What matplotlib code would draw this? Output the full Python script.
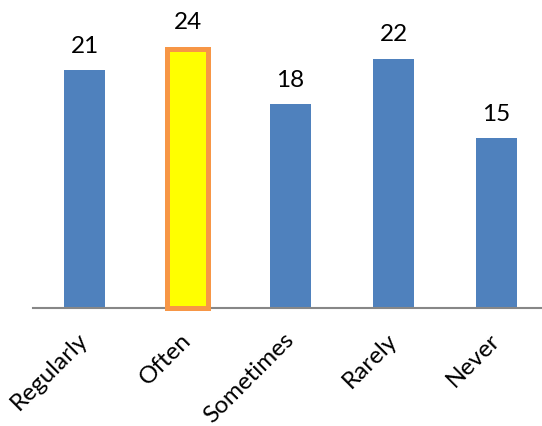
import matplotlib

matplotlib.use("Agg")

import matplotlib.pyplot as plt
import numpy as np

categories = ["Regularly", "Often", "Sometimes", "Rarely", "Never"]
values = [21, 24, 18, 22, 15]
highlight = "Often"

Y_MAX = 23.0
BLUE = "#4F81BD"
YELLOW = "#FFFF00"
ORANGE = "#F79646"
GRAY = "#878787"

plt.rcParams["font.family"] = ["Lato", "DejaVu Sans"]

W, H = 542, 427
fig = plt.figure(figsize=(W / 100, H / 100), dpi=100)
ax = fig.add_axes([33 / W, (H - 309) / H, (W - 33) / W, (309 - 48.4) / H])

x = np.arange(len(categories))
shown = np.minimum(values, Y_MAX - 0.1)

for xi, cat, h in zip(x, categories, shown):
    if cat == highlight:
        ax.bar(xi, h, width=0.4, color=YELLOW, edgecolor=ORANGE,
               linewidth=3.6, clip_on=False, zorder=3)
    else:
        ax.bar(xi, h, width=0.4, color=BLUE, zorder=2)

for xi, cat, v, h in zip(x, categories, values, shown):
    off = 27 if cat == highlight else 25
    ax.annotate(str(v), xy=(xi, h), xytext=(0, off), textcoords="offset pixels",
                ha="center", va="center", fontsize=17.5, color="black")

ax.set_xlim(-0.5, 4.44)
ax.set_ylim(0, Y_MAX)
ax.set_xticks(x)
ax.set_xticklabels(categories, rotation=45, ha="right", va="center",
                   rotation_mode="anchor", fontsize=17.5)
ax.tick_params(axis="x", length=0, pad=20)
ax.set_yticks([])

for side in ["top", "right", "left"]:
    ax.spines[side].set_visible(False)
ax.spines["bottom"].set_color(GRAY)
ax.spines["bottom"].set_linewidth(1.5)
ax.spines["bottom"].set_zorder(2.5)

fig.savefig("out.png", dpi=100)
